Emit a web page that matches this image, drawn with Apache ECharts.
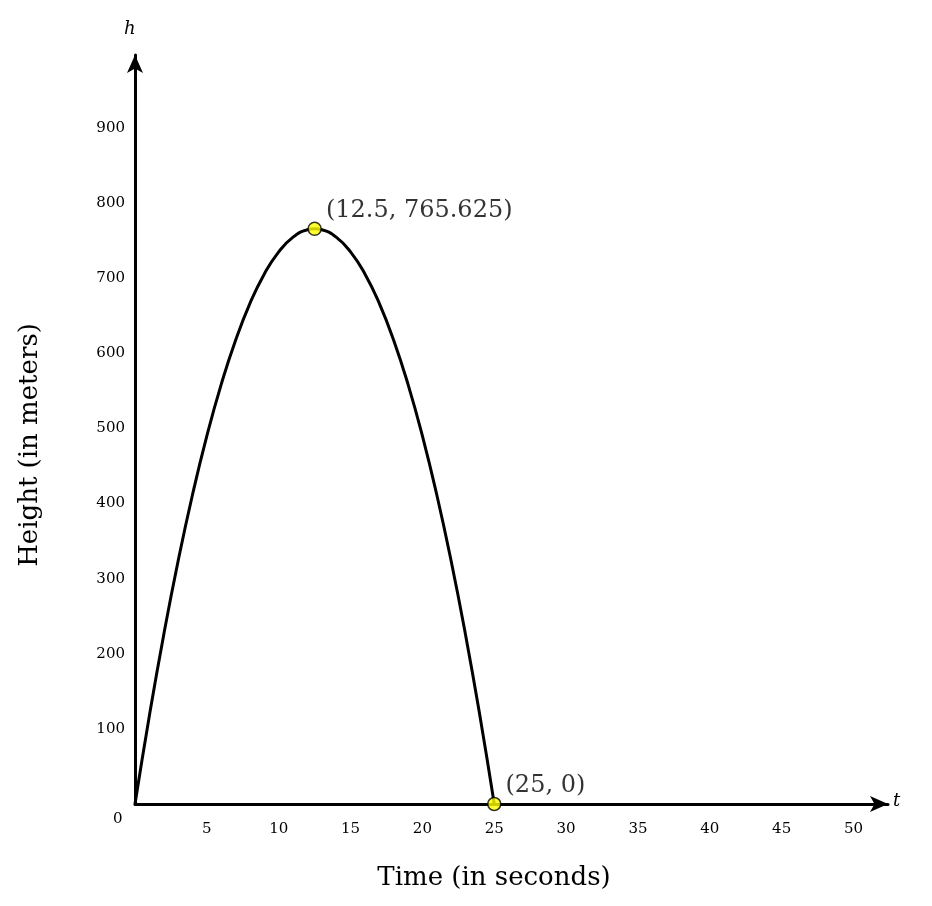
<!DOCTYPE html>
<html>
<head>
<meta charset="utf-8">
<script src="https://cdn.jsdelivr.net/npm/echarts@6/dist/echarts.min.js"></script>
<style>html,body{margin:0;padding:0;background:#fff}#chart{width:932px;height:906px}</style>
</head>
<body>
<div id="chart"></div>
<script>
// heights, t in seconds
var times = [0, 1, 2, 3, 4, 5, 6, 7, 8, 9, 10, 11, 12, 12.5, 13, 14, 15, 16, 17, 18, 19, 20, 21, 22, 23, 24, 25];
var heights = [0, 117.6, 225.4, 323.4, 411.6, 490, 558.6, 617.4, 666.4, 705.6, 735, 754.6, 764.4, 765.625,
  764.4, 754.6, 735, 705.6, 666.4, 617.4, 558.6, 490, 411.6, 323.4, 225.4, 117.6, 0];
var keyPoints = [[12.5, 765.625, '(12.5, 765.625)'], [25, 0, '(25, 0)']];

var serif = 'DejaVu Serif';
var chart = echarts.init(document.getElementById('chart'));
var curve = times.map(function (t, i) { return [t, heights[i]]; });

chart.setOption({
  animation: false,
  grid: { left: 135, top: 55, width: 753, height: 749 },
  xAxis: {
    type: 'value', min: 0, max: 52.4, interval: 5,
    splitLine: { show: false },
    axisLine: { lineStyle: { color: '#000', width: 3 }, symbol: ['none', 'arrow'], symbolSize: [12, 18] },
    axisTick: { show: false },
    axisLabel: { showMaxLabel: false, showMinLabel: false, color: '#000', fontFamily: serif, fontSize: 15, margin: 18 }
  },
  yAxis: {
    type: 'value', min: 0, max: 997, interval: 100,
    splitLine: { show: false },
    axisLine: { lineStyle: { color: '#000', width: 3 }, symbol: ['none', 'arrow'], symbolSize: [12, 18] },
    axisTick: { show: false },
    axisLabel: { showMaxLabel: false, showMinLabel: false, color: '#000', fontFamily: serif, fontSize: 15, margin: 10 }
  },
  series: [{
    type: 'line', data: curve, smooth: true, showSymbol: false,
    lineStyle: { color: '#000', width: 3 }
  }, {
    type: 'scatter', data: keyPoints, symbolSize: 13, z: 5,
    itemStyle: { color: '#ffff00', borderColor: '#000', borderWidth: 1.5 },
    label: {
      show: true, position: 'right', distance: 4, offset: [0, -18],
      formatter: function (p) { return p.data[2]; },
      color: '#000', fontFamily: serif, fontSize: 24
    }
  }],
  graphic: [
    { type: 'text', left: 113, top: 812, style: { text: '0', font: '15px "DejaVu Serif"', fill: '#000' } },
    { type: 'text', left: 124, top: 20, style: { text: 'h', font: 'italic 18px "DejaVu Serif"', fill: '#000' } },
    { type: 'text', left: 893, top: 792, style: { text: 't', font: 'italic 18px "DejaVu Serif"', fill: '#000' } },
    { type: 'text', x: 494, y: 878, style: { text: 'Time (in seconds)', font: '26px "DejaVu Serif"', fill: '#000', align: 'center', verticalAlign: 'middle' } },
    { type: 'text', x: 30, y: 445, rotation: Math.PI / 2, style: { text: 'Height (in meters)', font: '26px "DejaVu Serif"', fill: '#000', align: 'center', verticalAlign: 'middle' } }
  ]
});
</script>
</body>
</html>
